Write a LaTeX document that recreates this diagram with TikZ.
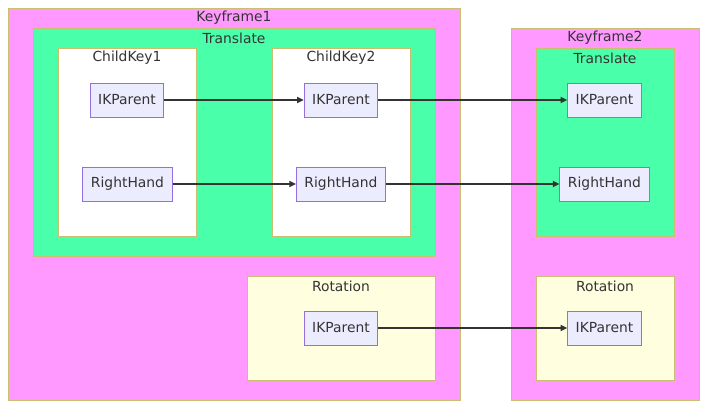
\documentclass[tikz,border=0pt]{standalone}
\usepackage{fontspec}
\setmainfont{DejaVu Sans}
\usetikzlibrary{arrows.meta}
\definecolor{pinkc}{HTML}{FF99FF}
\definecolor{greenc}{HTML}{4AFFAA}
\definecolor{yellowc}{HTML}{FFFFE0}
\definecolor{nodefill}{HTML}{ECECFF}
\definecolor{nodeline}{HTML}{9370DB}
\definecolor{clline}{HTML}{C8C070}
\definecolor{txt}{HTML}{333333}
\tikzset{
  cluster/.style={draw=clline, line width=0.75pt},
  cltitle/.style={text=txt, font=\fontsize{10.4}{12}\selectfont, anchor=center, inner sep=0pt},
  box/.style={draw=nodeline, fill=nodefill, line width=0.75pt, text=txt, font=\fontsize{10.4}{12}\selectfont, minimum height=25.5pt, inner xsep=6pt, inner ysep=0pt},
  link/.style={draw=txt, line width=1.4pt, -{Triangle[length=5pt,width=4.5pt]}}
}
\begin{document}
\begin{tikzpicture}[x=0.75pt,y=-0.75pt]
\useasboundingbox (0,0) rectangle (707,408);
\fill[white] (0,0) rectangle (707,408);
% clusters
\filldraw[cluster, fill=pinkc] (8,8) rectangle (460,400);
\node[cltitle] (k1t) at (234,18) {Keyframe1};
\filldraw[cluster, fill=greenc] (33,28) rectangle (435,256);
\node[cltitle] (t1t) at (234,38) {Translate};
\filldraw[cluster, fill=white] (58,48) rectangle (196,236);
\node[cltitle] (c1t) at (127,58) {ChildKey1};
\filldraw[cluster, fill=white] (272,48) rectangle (410,236);
\node[cltitle] (c2t) at (341,58) {ChildKey2};
\filldraw[cluster, fill=yellowc] (247,276) rectangle (435,380);
\node[cltitle] (r1t) at (341,286) {Rotation};
\filldraw[cluster, fill=pinkc] (511,28) rectangle (699,400);
\node[cltitle] (k2t) at (605,38) {Keyframe2};
\filldraw[cluster, fill=greenc] (536,48) rectangle (674,236);
\node[cltitle] (t2t) at (605,58) {Translate};
\filldraw[cluster, fill=yellowc] (536,276) rectangle (674,380);
\node[cltitle] (r2t) at (605,286) {Rotation};
% nodes
\node[box] (ik1) at (127,100) {IKParent};
\node[box] (rh1) at (127.5,184) {RightHand};
\node[box] (ik2) at (341,100) {IKParent};
\node[box] (rh2) at (341,184) {RightHand};
\node[box] (ik3) at (604.5,100) {IKParent};
\node[box] (rh3) at (604.5,184) {RightHand};
\node[box] (ikr1) at (341,328) {IKParent};
\node[box] (ikr2) at (604.5,328) {IKParent};
% links
\draw[link] (ik1) -- (ik2);
\draw[link] (ik2) -- (ik3);
\draw[link] (rh1) -- (rh2);
\draw[link] (rh2) -- (rh3);
\draw[link] (ikr1) -- (ikr2);
\end{tikzpicture}
\end{document}
